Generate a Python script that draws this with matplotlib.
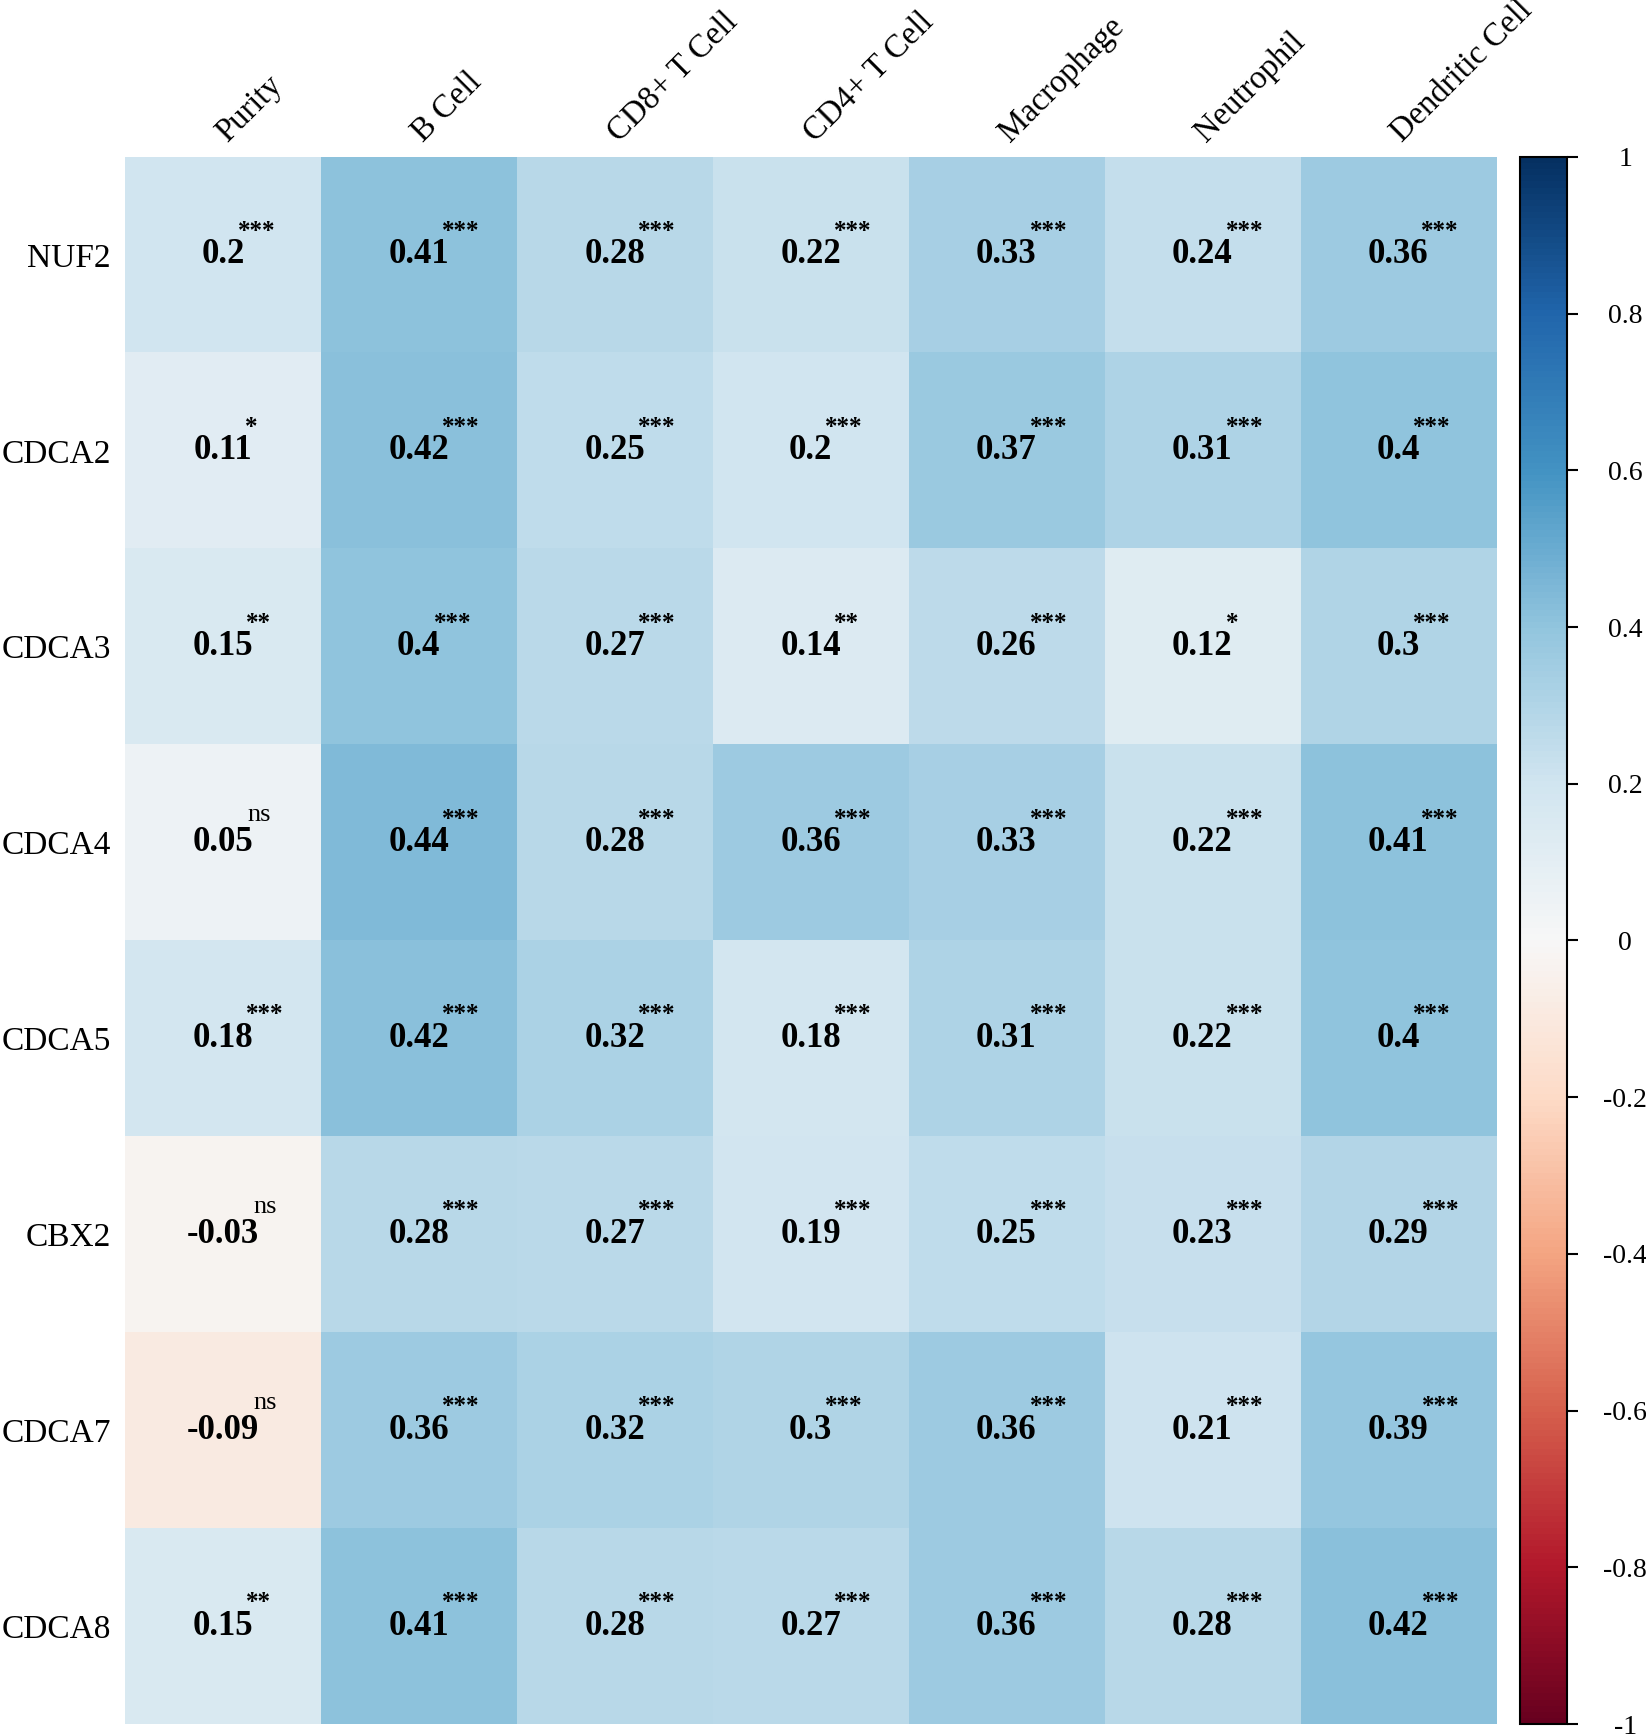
import matplotlib
matplotlib.use("Agg")
import matplotlib.pyplot as plt
import matplotlib.transforms as mtransforms
import numpy as np

plt.rcParams['font.family'] = ['Liberation Serif', 'DejaVu Serif']

genes = ["NUF2", "CDCA2", "CDCA3", "CDCA4", "CDCA5", "CBX2", "CDCA7", "CDCA8"]
cells = ["Purity", "B Cell", "CD8+ T Cell", "CD4+ T Cell", "Macrophage",
         "Neutrophil", "Dendritic Cell"]

cor = np.array([
    [0.20, 0.41, 0.28, 0.22, 0.33, 0.24, 0.36],
    [0.11, 0.42, 0.25, 0.20, 0.37, 0.31, 0.40],
    [0.15, 0.40, 0.27, 0.14, 0.26, 0.12, 0.30],
    [0.05, 0.44, 0.28, 0.36, 0.33, 0.22, 0.41],
    [0.18, 0.42, 0.32, 0.18, 0.31, 0.22, 0.40],
    [-0.03, 0.28, 0.27, 0.19, 0.25, 0.23, 0.29],
    [-0.09, 0.36, 0.32, 0.30, 0.36, 0.21, 0.39],
    [0.15, 0.41, 0.28, 0.27, 0.36, 0.28, 0.42],
])

sig = [
    ["***", "***", "***", "***", "***", "***", "***"],
    ["*", "***", "***", "***", "***", "***", "***"],
    ["**", "***", "***", "**", "***", "*", "***"],
    ["ns", "***", "***", "***", "***", "***", "***"],
    ["***", "***", "***", "***", "***", "***", "***"],
    ["ns", "***", "***", "***", "***", "***", "***"],
    ["ns", "***", "***", "***", "***", "***", "***"],
    ["**", "***", "***", "***", "***", "***", "***"],
]

cbar_ticks = [1, 0.8, 0.6, 0.4, 0.2, 0, -0.2, -0.4, -0.6, -0.8, -1]

W, H = 1646, 1734
fig = plt.figure(figsize=(W / 100, H / 100), dpi=100)

ax = fig.add_axes([125 / W, 1 - 1724 / H, (1496 - 125) / W, (1724 - 157) / H])
cax = fig.add_axes([1520 / W, 1 - 1724 / H, 47 / W, (1724 - 157) / H])

im = ax.imshow(cor, cmap="RdBu", vmin=-1, vmax=1, aspect="auto")

for s in ax.spines.values():
    s.set_visible(False)

ax.set_xticks(np.arange(len(cells)))
ax.set_yticks(np.arange(len(genes)))
ax.xaxis.tick_top()
ax.set_xticklabels(cells, rotation=45, ha="left", va="baseline",
                   rotation_mode="anchor", fontsize=23.5)
ax.set_yticklabels(genes, fontsize=24)
ax.tick_params(axis="both", length=0)
ax.tick_params(axis="x", pad=10)
ax.tick_params(axis="y", pad=10)
# nudge the top labels so they start just right of the cell centre
offset = mtransforms.ScaledTranslation(4 / 100, 0, fig.dpi_scale_trans)
for lab in ax.get_xticklabels():
    lab.set_transform(lab.get_transform() + offset)

for i in range(len(genes)):
    for j in range(len(cells)):
        v = cor[i, j]
        t = ax.text(j, i, f"{v:g}", ha="center", va="center",
                    fontsize=25, fontweight="bold", color="black")
        if sig[i][j] == "ns":
            ax.annotate("ns", xy=(1, 1), xycoords=t, xytext=(-4, 8),
                        textcoords="offset points", ha="left", va="center",
                        fontsize=19)
        else:
            ax.annotate(sig[i][j], xy=(1, 1), xycoords=t, xytext=(-5, 5),
                        textcoords="offset points", ha="left", va="center",
                        fontsize=18, fontweight="bold")

cb = fig.colorbar(im, cax=cax)
cb.outline.set_linewidth(1.5)
cb.set_ticks(cbar_ticks)
cb.set_ticklabels([f"{t:g}" for t in cbar_ticks])
cax.tick_params(axis="y", length=8, width=1.5, pad=34, labelsize=20)
for lab in cax.get_yticklabels():
    lab.set_ha("center")

fig.savefig("out.png", dpi=100)
